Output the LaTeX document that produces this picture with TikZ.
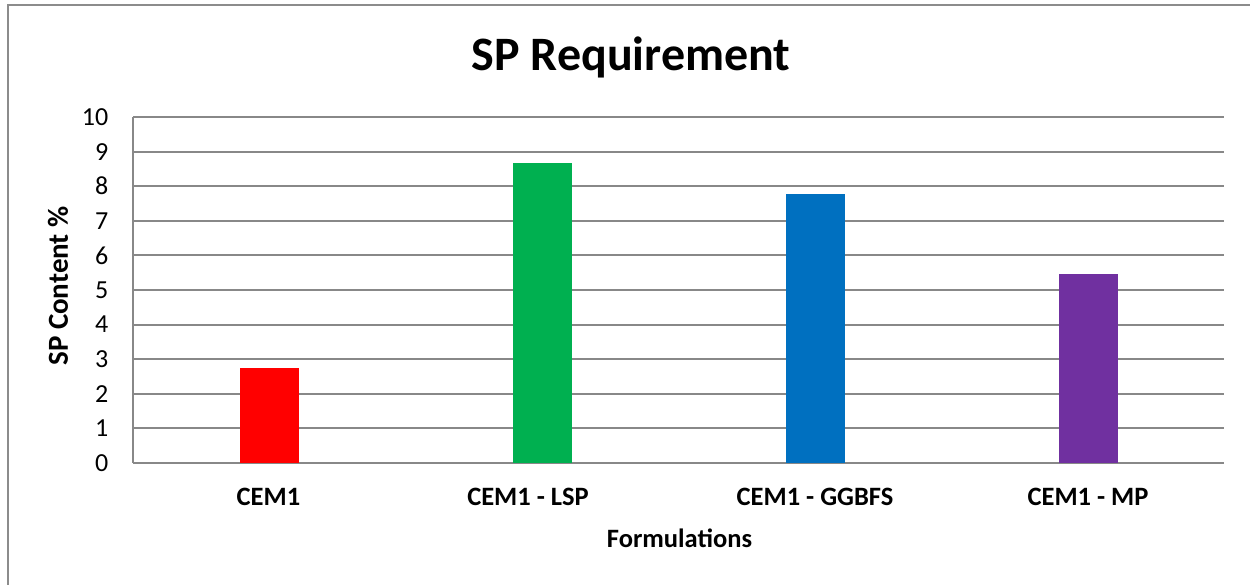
\documentclass[tikz,border=0pt]{standalone}
\usepackage{fontspec}
\setmainfont{Carlito}
\definecolor{gridgray}{HTML}{888888}
\definecolor{framegray}{HTML}{8C8C8C}
\definecolor{barred}{HTML}{FF0000}
\definecolor{bargreen}{HTML}{00B050}
\definecolor{barblue}{HTML}{0070C0}
\definecolor{barpurple}{HTML}{7030A0}
\tikzset{
  grid line/.style={draw=gridgray, line width=2pt},
  ticklabel/.style={font=\fontsize{26}{30}\selectfont, anchor=east, inner sep=0pt},
  catlabel/.style={font=\bfseries\fontsize{26.5}{30}\selectfont, inner sep=0pt},
  axistitle/.style={font=\bfseries\fontsize{26.5}{30}\selectfont, inner sep=0pt},
}
\begin{document}
\begin{tikzpicture}[x=1pt, y=-1pt]
  \useasboundingbox (0,0) rectangle (1250,584);
  \fill[white] (0,0) rectangle (1250,584);
  % chart frame (runs past the page on the right and bottom)
  \begin{scope}
    \clip (0,0) rectangle (1250,584);
    \draw[framegray, line width=1.6pt] (8,600) -- (8,5) -- (1270,5);
  \end{scope}
  % title
  \node[font=\bfseries\fontsize{48}{54}\selectfont, inner sep=0pt] (title) at (631,57) {SP Requirement};
  % horizontal grid lines and value labels
  \foreach \v in {0,...,10} {
    \draw[grid line] (133,463-34.6*\v) -- (1224,463-34.6*\v);
    \node[ticklabel] (tick\v) at (108.5,463-34.6*\v) {\v};
  }
  % value axis line
  \draw[grid line] (133,117) -- (133,463);
  % bars
  \fill[barred]    (240,463) rectangle (299,463-34.6*2.75);
  \fill[bargreen]  (513,463) rectangle (572,463-34.6*8.67);
  \fill[barblue]   (786,463) rectangle (845,463-34.6*7.77);
  \fill[barpurple] (1059,463) rectangle (1118,463-34.6*5.46);
  % category labels
  \node[catlabel] (c1) at (268.5,497) {CEM1};
  \node[catlabel] (c2) at (528,497) {CEM1 - LSP};
  \node[catlabel] (c3) at (815,497) {CEM1 - GGBFS};
  \node[catlabel] (c4) at (1088,497) {CEM1 - MP};
  % axis titles
  \node[axistitle] (xtitle) at (679.5,538) {Formulations};
  \node[axistitle, font=\bfseries\fontsize{29}{33}\selectfont, rotate=90] (ytitle) at (58,286) {SP Content \%};
\end{tikzpicture}
\end{document}
